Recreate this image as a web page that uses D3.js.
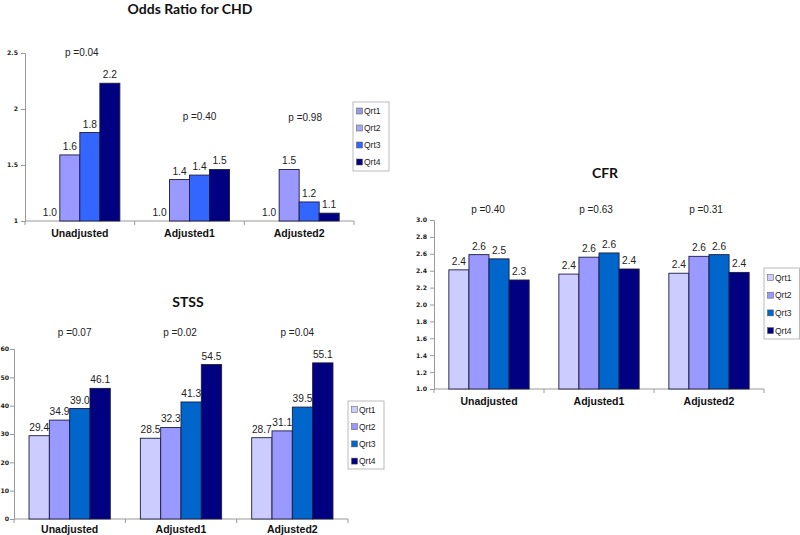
<!DOCTYPE html>
<html>
<head>
<meta charset="utf-8">
<script src="https://cdn.jsdelivr.net/npm/d3@7"></script>
<style>
  html, body { margin: 0; padding: 0; background: #fff; }
  svg { display: block; }
</style>
</head>
<body>
<svg id="chart" width="800" height="535"></svg>
<script>
// ---------- DATA ----------
const categories = ["Unadjusted", "Adjusted1", "Adjusted2"];
const series = ["Qrt1", "Qrt2", "Qrt3", "Qrt4"];

// Odds Ratio for CHD
const chdValues = [
  [1.0, 1.59, 1.79, 2.23],
  [1.0, 1.37, 1.41, 1.46],
  [1.0, 1.46, 1.17, 1.07]
];
const chdP = ["p =0.04", "p =0.40", "p =0.98"];
const chdTicks = [1, 1.5, 2, 2.5];

// CFR
const cfrValues = [
  [2.41, 2.59, 2.54, 2.29],
  [2.36, 2.56, 2.61, 2.42],
  [2.37, 2.57, 2.59, 2.38]
];
const cfrP = ["p =0.40", "p =0.63", "p =0.31"];
const cfrTicks = [1.0, 1.2, 1.4, 1.6, 1.8, 2.0, 2.2, 2.4, 2.6, 2.8, 3.0];

// STSS
const stssValues = [
  [29.4, 34.9, 39.0, 46.1],
  [28.5, 32.3, 41.3, 54.5],
  [28.7, 31.1, 39.5, 55.1]
];
const stssP = ["p =0.07", "p =0.02", "p =0.04"];
const stssTicks = [0, 10, 20, 30, 40, 50, 60];

// ---------- DRAW ----------
const svg = d3.select("#chart");
const FONT = "Arial, 'Liberation Sans', sans-serif";

function drawChart(cfg) {
  const g = svg.append("g");
  const x0 = d3.scaleBand().domain(categories).range([cfg.x0, cfg.x1]).paddingInner(0).paddingOuter(0);
  const bw = x0.bandwidth();
  const x1 = d3.scaleBand().domain(series).range([bw * 0.135, bw * 0.865]).padding(0);
  const y = d3.scaleLinear().domain(cfg.domain).range([cfg.yBottom, cfg.yTop]);

  // title
  g.append("text").attr("x", cfg.titleX).attr("y", cfg.titleY)
    .attr("text-anchor", "middle").attr("font-family", "Lato, 'Open Sans', sans-serif")
    .attr("font-weight", "bold").attr("font-size", 14).attr("fill", "#111").text(cfg.title);

  // y axis
  const yAxis = d3.axisLeft(y).tickValues(cfg.ticks).tickSize(4).tickPadding(cfg.tickPad).tickFormat(cfg.tickFormat);
  const ya = g.append("g").attr("transform", `translate(${cfg.x0},0)`).call(yAxis);
  ya.select(".domain").attr("stroke", "#999");
  ya.selectAll(".tick line").attr("stroke", "#999");
  ya.selectAll(".tick text").attr("font-family", "'DejaVu Sans', Verdana, sans-serif")
    .attr("font-weight", "bold").attr("font-size", 6.2).attr("fill", "#222");

  // x axis line with separators
  g.append("line").attr("x1", cfg.x0).attr("x2", cfg.x1)
    .attr("y1", cfg.yBottom).attr("y2", cfg.yBottom).attr("stroke", "#999");
  const seps = categories.map(c => x0(c)).concat([cfg.x1]);
  g.selectAll(".sep").data(seps).enter().append("line")
    .attr("x1", d => d).attr("x2", d => d)
    .attr("y1", cfg.yBottom).attr("y2", cfg.yBottom + 4).attr("stroke", "#999");

  // category labels
  g.selectAll(".cat").data(categories).enter().append("text")
    .attr("x", d => x0(d) + bw / 2).attr("y", cfg.catY)
    .attr("text-anchor", "middle").attr("font-family", FONT).attr("font-weight", "bold")
    .attr("font-size", 10.5).attr("fill", "#111").text(d => d);

  // bars
  const groups = g.selectAll(".grp").data(categories).enter().append("g")
    .attr("transform", d => `translate(${x0(d)},0)`);
  groups.each(function (cat, ci) {
    const vals = cfg.values[ci].map((v, si) => ({ s: series[si], v }));
    const gg = d3.select(this);
    gg.selectAll("rect").data(vals.filter(d => y(d.v) < cfg.yBottom - 0.5)).enter().append("rect")
      .attr("x", d => x1(d.s)).attr("width", x1.bandwidth())
      .attr("y", d => y(d.v)).attr("height", d => cfg.yBottom - y(d.v))
      .attr("fill", d => cfg.colors[series.indexOf(d.s)])
      .attr("stroke", "#1c1c40").attr("stroke-width", 0.9);
    gg.selectAll(".lbl").data(vals).enter().append("text")
      .attr("x", d => x1(d.s) + x1.bandwidth() / 2).attr("y", d => y(d.v) - 5)
      .attr("text-anchor", "middle").attr("font-family", FONT).attr("font-size", 10.2)
      .attr("fill", "#222").text(d => cfg.labelFormat(d.v));
  });

  // p labels
  g.selectAll(".p").data(cfg.p).enter().append("text")
    .attr("x", (d, i) => x0(categories[i]) + bw / 2 + cfg.pDx[i])
    .attr("y", (d, i) => cfg.pY[i])
    .attr("text-anchor", "middle").attr("font-family", FONT).attr("font-size", 10)
    .attr("fill", "#222").text(d => d);

  // legend
  const L = cfg.legend;
  const lg = g.append("g");
  lg.append("rect").attr("x", L.x).attr("y", L.y).attr("width", L.w).attr("height", L.h)
    .attr("fill", "#fff").attr("stroke", "#aaa").attr("stroke-width", 0.8);
  series.forEach((s, i) => {
    const cy = L.y + L.first + i * L.step;
    lg.append("rect").attr("x", L.x + 3.5).attr("y", cy - 3).attr("width", 6).attr("height", 6)
      .attr("fill", cfg.legendColors[i]).attr("stroke", "#555").attr("stroke-width", 0.5);
    lg.append("text").attr("x", L.x + 11).attr("y", cy + 3)
      .attr("font-family", FONT).attr("font-size", 8.5).attr("fill", "#222").text(s);
  });
}

const fmt1 = d3.format(".1f");
const colorsA = ["#9999FF", "#9999FF", "#3366FF", "#000080"];
const colorsB = ["#CCCCFF", "#9999FF", "#0066CC", "#000080"];

drawChart({
  title: "Odds Ratio for CHD", titleX: 190, titleY: 14,
  x0: 25, x1: 354, yBottom: 221, yTop: 53, domain: [1, 2.5],
  ticks: chdTicks, tickFormat: d3.format("~g"), tickPad: 3,
  values: chdValues, colors: colorsA, legendColors: ["#9A9AE0", "#A8A8F0", "#3366FF", "#000080"],
  labelFormat: fmt1, catY: 237,
  p: chdP, pDx: [2, 10, 6], pY: [56, 120, 121],
  legend: { x: 353, y: 102, w: 36, h: 69, first: 9, step: 17 }
});

drawChart({
  title: "CFR", titleX: 605, titleY: 178,
  x0: 434, x1: 764, yBottom: 389, yTop: 220, domain: [1, 3],
  ticks: cfrTicks, tickFormat: fmt1, tickPad: 3,
  values: cfrValues, colors: colorsB, legendColors: colorsB,
  labelFormat: fmt1, catY: 405,
  p: cfrP, pDx: [-1, -3, -3], pY: [213, 213, 213],
  legend: { x: 764, y: 268, w: 35.5, h: 71, first: 9.5, step: 17.7 }
});

drawChart({
  title: "STSS", titleX: 188, titleY: 307,
  x0: 14, x1: 348, yBottom: 519, yTop: 349, domain: [0, 60],
  ticks: stssTicks, tickFormat: d3.format("d"), tickPad: 1,
  values: stssValues, colors: colorsB, legendColors: colorsB,
  labelFormat: fmt1, catY: 533,
  p: stssP, pDx: [5, -1, 5], pY: [336, 336, 336],
  legend: { x: 348, y: 401, w: 36, h: 68, first: 8.5, step: 17.2 }
});
</script>
</body>
</html>
